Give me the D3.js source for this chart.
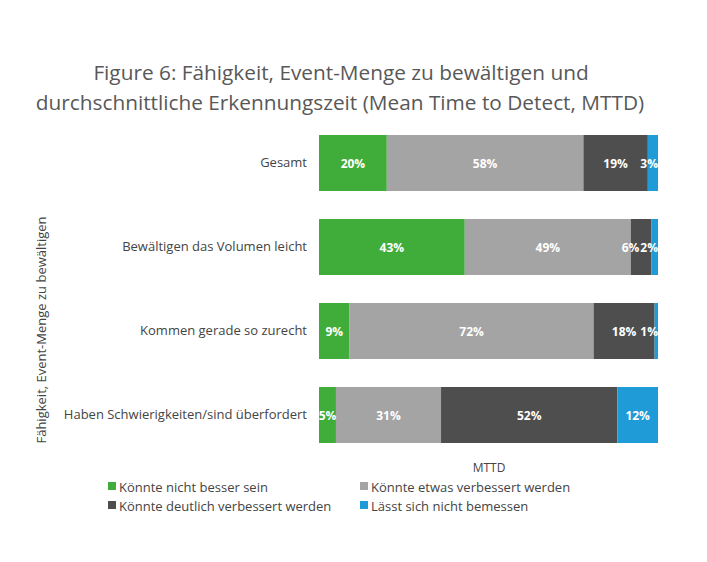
<!DOCTYPE html>
<html><head><meta charset="utf-8">
<script src="https://cdn.jsdelivr.net/npm/d3@7"></script>
<style>body{margin:0;background:#fff;}svg{display:block;}</style>
</head><body>
<script>
const categories = ["Gesamt","Bewältigen das Volumen leicht","Kommen gerade so zurecht","Haben Schwierigkeiten/sind überfordert"];
const seriesNames = ["Könnte nicht besser sein","Könnte etwas verbessert werden","Könnte deutlich verbessert werden","Lässt sich nicht bemessen"];
const nichtBesser = [20,43,9,5];
const etwasBesser = [58,49,72,31];
const deutlichBesser = [19,6,18,52];
const nichtBemessen = [3,2,1,12];
const colors = ["#40ad3a","#a4a4a4","#4e4e4e","#1f9bd7"];

const W=707,H=562;
const svg=d3.select("body").append("svg").attr("width",W).attr("height",H);
const font="'Open Sans', 'DejaVu Sans', sans-serif";

svg.append("text").attr("x",341).attr("y",80).attr("text-anchor","middle")
  .attr("font-family",font).attr("font-size",20.8).attr("fill","#585858")
  .text("Figure 6: Fähigkeit, Event-Menge zu bewältigen und");
svg.append("text").attr("x",340).attr("y",110).attr("text-anchor","middle")
  .attr("font-family",font).attr("font-size",20.8).attr("fill","#585858")
  .text("durchschnittliche Erkennungszeit (Mean Time to Detect, MTTD)");

const data = categories.map((c,i)=>({cat:c, vals:[nichtBesser[i],etwasBesser[i],deutlichBesser[i],nichtBemessen[i]]}));
const x=d3.scaleLinear().domain([0,100]).range([319,658]);
const y=d3.scaleBand().domain(categories).range([121,457]).paddingInner(28/84).paddingOuter(14/84);

const rows=svg.selectAll("g.row").data(data).join("g").attr("class","row");
rows.each(function(d){
  const g=d3.select(this);
  let cum=0;
  const segs=d.vals.map(v=>{const s={v,x0:x(cum),x1:x(cum+v)};cum+=v;return s;});
  segs.forEach((s,j)=>{
    g.append("rect").attr("x",s.x0).attr("y",y(d.cat)).attr("width",s.x1-s.x0).attr("height",y.bandwidth()).attr("fill",colors[j]);
  });
  const texts=segs.map(s=>g.append("text").attr("y",y(d.cat)+y.bandwidth()/2+4.5)
      .attr("text-anchor","start").attr("font-family",font).attr("font-weight","bold")
      .attr("font-size",12).attr("fill","#fff").text(s.v+"%"));
  // position: centered, but keep inside the bar and avoid overlaps (right to left)
  let limit=x.range()[1];
  for(let j=segs.length-1;j>=0;j--){
    const w=texts[j].node().getComputedTextLength();
    let left=(segs[j].x0+segs[j].x1)/2-w/2;
    if(left+w>limit) left=limit-w;
    texts[j].attr("x",left);
    limit=left-1;
  }
});

const yAxis=svg.append("g").attr("transform","translate(319,0)")
  .call(d3.axisLeft(y).tickSize(0).tickPadding(12));
yAxis.select(".domain").remove();
yAxis.selectAll("text").attr("font-family",font).attr("font-size",13).attr("fill","#444");

svg.append("text").attr("transform","translate(46,330) rotate(-90)").attr("text-anchor","middle")
  .attr("font-family",font).attr("font-size",13).attr("fill","#444")
  .text("Fähigkeit, Event-Menge zu bewältigen");
svg.append("text").attr("x",489).attr("y",472).attr("text-anchor","middle")
  .attr("font-family",font).attr("font-size",12).attr("fill","#444").text("MTTD");

const legPos=[[108,492],[360,492],[108,511],[360,511]];
seriesNames.forEach((n,i)=>{
  const [lx,ly]=legPos[i];
  svg.append("rect").attr("x",lx).attr("y",ly-10).attr("width",8).attr("height",8).attr("fill",colors[i]);
  svg.append("text").attr("x",lx+11).attr("y",ly).attr("font-family",font).attr("font-size",13).attr("fill","#444").text(n);
});
</script>
</body></html>
